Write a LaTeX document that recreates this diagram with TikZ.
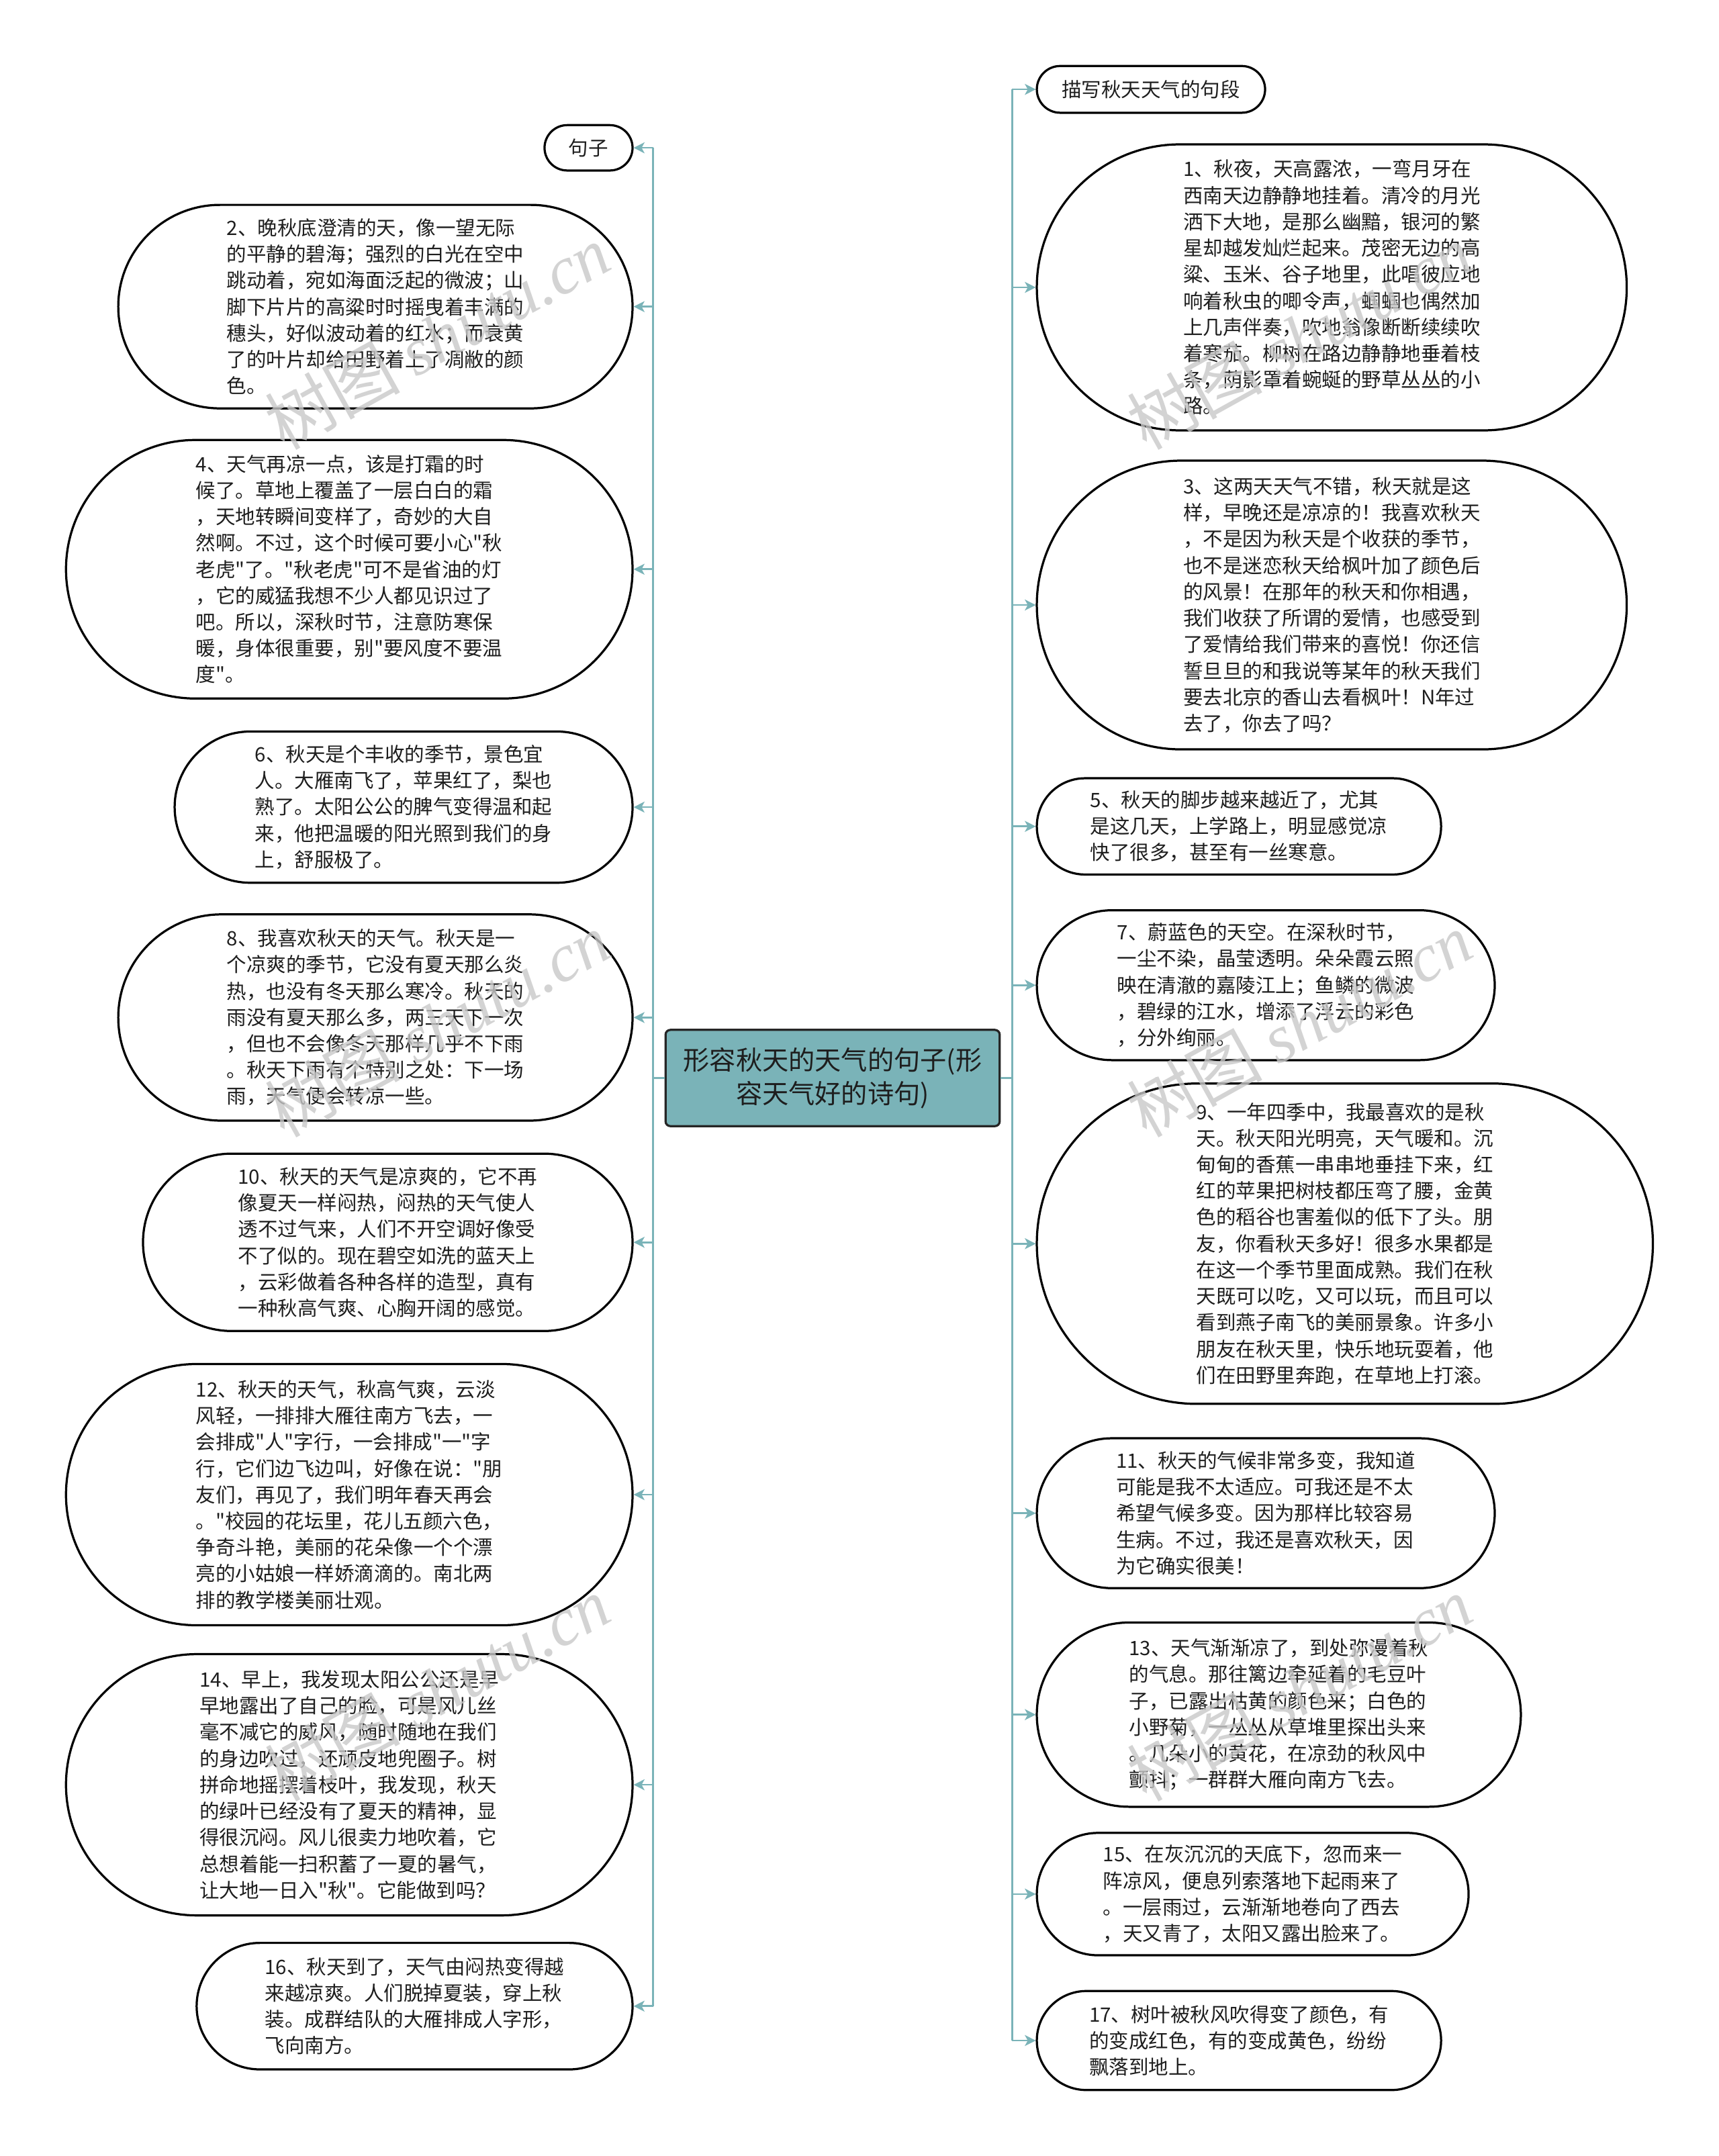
\documentclass[tikz,border=0pt]{standalone}
\usepackage{fontspec}
\setmainfont{Noto Sans CJK SC}[Ligatures=TeXOff]
\newfontfamily\wmlatin{Liberation Serif}
\usetikzlibrary{shapes.misc,arrows.meta}
\definecolor{teal0}{HTML}{7AB3B8}
\definecolor{txt}{HTML}{1E1E1E}
\definecolor{wmgray}{HTML}{C8C8C8}
\begin{document}
\begin{tikzpicture}[x=0.02cm,y=-0.02cm,
  box/.style 2 args={draw=black, line width=0.9pt, fill=white, rounded rectangle,
    minimum width=#1*0.02cm, minimum height=#2*0.02cm, inner xsep=0pt, inner ysep=0pt,
    align=left, font=\fontsize{8.2pt}{10.9pt}\selectfont, text=txt},
  root/.style={draw=black!85, line width=0.9pt, fill=teal0, rounded corners=0.07cm,
    minimum width=243*0.02cm, minimum height=70*0.02cm, inner sep=0pt, align=center,
    font=\fontsize{10.9pt}{13.9pt}\selectfont, text=txt},
  conn/.style={draw=teal0, line width=0.75pt},
  arr/.style={conn, -{Stealth[length=4.5pt,width=4.5pt,inset=1.2pt]}},
  wm/.style={text=wmgray, opacity=0.8, rotate=29, font=\fontsize{28pt}{28pt}\selectfont}]
\fill[white] (0,0) rectangle (1250,1568);
\useasboundingbox (0,0) rectangle (1250,1568);

% central
\node[root] (C) at (605.5,784) {形容秋天的天气的句子(形\\容天气好的诗句)};

% right side
\node[box={166}{34}] (R0) at (837,65) {描写秋天天气的句段};
\node[box={429}{208}] (R1) at (968.5,209) {1、秋夜，天高露浓，一弯月牙在\\西南天边静静地挂着。清冷的月光\\洒下大地，是那么幽黯，银河的繁\\星却越发灿烂起来。茂密无边的高\\粱、玉米、谷子地里，此唱彼应地\\响着秋虫的唧令声，蝈蝈也偶然加\\上几声伴奏，吹地翁像断断续续吹\\着寒茄。柳树在路边静静地垂着枝\\条，荫影罩着蜿蜒的野草丛丛的小\\路。};
\node[box={429}{210}] (R3) at (968.5,440) {3、这两天天气不错，秋天就是这\\样，早晚还是凉凉的！我喜欢秋天\\，不是因为秋天是个收获的季节，\\也不是迷恋秋天给枫叶加了颜色后\\的风景！在那年的秋天和你相遇，\\我们收获了所谓的爱情，也感受到\\了爱情给我们带来的喜悦！你还信\\誓旦旦的和我说等某年的秋天我们\\要去北京的香山去看枫叶！N年过\\去了，你去了吗？};
\node[box={294}{70}] (R5) at (901,601) {5、秋天的脚步越来越近了，尤其\\是这几天，上学路上，明显感觉凉\\快了很多，甚至有一丝寒意。};
\node[box={333}{109}] (R7) at (920.5,716.5) {7、蔚蓝色的天空。在深秋时节，\\一尘不染，晶莹透明。朵朵霞云照\\映在清澈的嘉陵江上；鱼鳞的微波\\，碧绿的江水，增添了浮云的彩色\\，分外绚丽。};
\node[box={448}{233}] (R9) at (978,904.5) {9、一年四季中，我最喜欢的是秋\\天。秋天阳光明亮，天气暖和。沉\\甸甸的香蕉一串串地垂挂下来，红\\红的苹果把树枝都压弯了腰，金黄\\色的稻谷也害羞似的低下了头。朋\\友，你看秋天多好！很多水果都是\\在这一个季节里面成熟。我们在秋\\天既可以吃，又可以玩，而且可以\\看到燕子南飞的美丽景象。许多小\\朋友在秋天里，快乐地玩耍着，他\\们在田野里奔跑，在草地上打滚。};
\node[box={333}{109}] (R11) at (920.5,1100.5) {11、秋天的气候非常多变，我知道\\可能是我不太适应。可我还是不太\\希望气候多变。因为那样比较容易\\生病。不过，我还是喜欢秋天，因\\为它确实很美！};
\node[box={352}{134}] (R13) at (930,1247) {13、天气渐渐凉了，到处弥漫着秋\\的气息。那往篱边牵延着的毛豆叶\\子，已露出枯黄的颜色来；白色的\\小野菊，一丛丛从草堆里探出头来\\。几朵小的黄花，在凉劲的秋风中\\颤抖；一群群大雁向南方飞去。};
\node[box={314}{89}] (R15) at (911,1377.5) {15、在灰沉沉的天底下，忽而来一\\阵凉风，便息列索落地下起雨来了\\。一层雨过，云渐渐地卷向了西去\\，天又青了，太阳又露出脸来了。};
\node[box={294}{72}] (R17) at (901,1484) {17、树叶被秋风吹得变了颜色，有\\的变成红色，有的变成黄色，纷纷\\飘落到地上。};

% left side
\node[box={64}{33}] (L0) at (428,107.5) {句子};
\node[box={374}{148}] (L2) at (273,223) {2、晚秋底澄清的天，像一望无际\\的平静的碧海；强烈的白光在空中\\跳动着，宛如海面泛起的微波；山\\脚下片片的高粱时时摇曳着丰满的\\穗头，好似波动着的红水；而衰黄\\了的叶片却给田野着上了凋敝的颜\\色。};
\node[box={412}{188}] (L4) at (254,414) {4、天气再凉一点，该是打霜的时\\候了。草地上覆盖了一层白白的霜\\，天地转瞬间变样了，奇妙的大自\\然啊。不过，这个时候可要小心"秋\\老虎"了。"秋老虎"可不是省油的灯\\，它的威猛我想不少人都见识过了\\吧。所以，深秋时节，注意防寒保\\暖，身体很重要，别"要风度不要温\\度"。};
\node[box={333}{110}] (L6) at (293.5,587) {6、秋天是个丰收的季节，景色宜\\人。大雁南飞了，苹果红了，梨也\\熟了。太阳公公的脾气变得温和起\\来，他把温暖的阳光照到我们的身\\上，舒服极了。};
\node[box={374}{150}] (L8) at (273,740) {8、我喜欢秋天的天气。秋天是一\\个凉爽的季节，它没有夏天那么炎\\热，也没有冬天那么寒冷。秋天的\\雨没有夏天那么多，两三天下一次\\，但也不会像冬天那样几乎不下雨\\。秋天下雨有个特别之处：下一场\\雨，天气便会转凉一些。};
\node[box={356}{129}] (L10) at (282,903.5) {10、秋天的天气是凉爽的，它不再\\像夏天一样闷热，闷热的天气使人\\透不过气来，人们不开空调好像受\\不了似的。现在碧空如洗的蓝天上\\，云彩做着各种各样的造型，真有\\一种秋高气爽、心胸开阔的感觉。};
\node[box={412}{190}] (L12) at (254,1087) {12、秋天的天气，秋高气爽，云淡\\风轻，一排排大雁往南方飞去，一\\会排成"人"字行，一会排成"一"字\\行，它们边飞边叫，好像在说："朋\\友们，再见了，我们明年春天再会\\。"校园的花坛里，花儿五颜六色，\\争奇斗艳，美丽的花朵像一个个漂\\亮的小姑娘一样娇滴滴的。南北两\\排的教学楼美丽壮观。};
\node[box={412}{190}] (L14) at (254,1298) {14、早上，我发现太阳公公还是早\\早地露出了自己的脸，可是风儿丝\\毫不减它的威风，随时随地在我们\\的身边吹过，还顽皮地兜圈子。树\\拼命地摇摆着枝叶，我发现，秋天\\的绿叶已经没有了夏天的精神，显\\得很沉闷。风儿很卖力地吹着，它\\总想着能一扫积蓄了一夏的暑气，\\让大地一日入"秋"。它能做到吗？};
\node[box={317}{92}] (L16) at (301.5,1459) {16、秋天到了，天气由闷热变得越\\来越凉爽。人们脱掉夏装，穿上秋\\装。成群结队的大雁排成人字形，\\飞向南方。};

% trunks
\coordinate (lt) at (475,784);
\coordinate (rt) at (736,784);
\draw[conn] (C.west) -- (lt);
\draw[conn] (C.east) -- (rt);
\draw[conn] (lt |- L0.east) -- (lt |- L16.east);
\draw[conn] (rt |- R0.west) -- (rt |- R17.west);
\foreach \n in {L0,L2,L4,L6,L8,L10,L12,L14,L16}
  \draw[arr] (lt |- \n.east) -- (\n.east);
\foreach \n in {R0,R1,R3,R5,R7,R9,R11,R13,R15,R17}
  \draw[arr] (rt |- \n.west) -- (\n.west);

% watermarks
\foreach \p in {(318,245),(318,745),(318,1228),(945,245),(945,745),(945,1228)}
  \node[wm] at \p {树图 {\wmlatin\itshape shutu.cn}};
\end{tikzpicture}
\end{document}
